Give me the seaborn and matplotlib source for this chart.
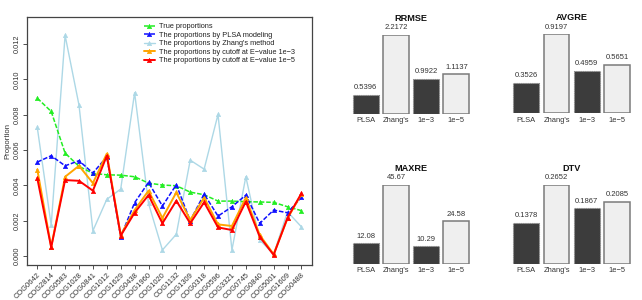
import matplotlib
matplotlib.use("Agg")
import matplotlib.pyplot as plt
import seaborn as sns
import pandas as pd
import numpy as np

sns.set_style("white")
plt.rcParams['font.family'] = ['Liberation Sans', 'DejaVu Sans']

cogs = ["COG0642", "COG2814", "COG0583", "COG1028", "COG0841", "COG1012", "COG1629",
        "COG0438", "COG1960", "COG1020", "COG1132", "COG1309", "COG0318", "COG0596",
        "COG3321", "COG0745", "COG0840", "COG5001", "COG1609", "COG0488"]

true_prop = [0.00894, 0.00819, 0.00583, 0.00508, 0.00468, 0.00460, 0.00458, 0.00449,
             0.00413, 0.00402, 0.00398, 0.00362, 0.00347, 0.00311, 0.00311, 0.00308,
             0.00306, 0.00304, 0.00279, 0.00257]
plsa_prop = [0.00532, 0.00568, 0.00511, 0.00540, 0.00470, 0.00562, 0.00109, 0.00302,
             0.00417, 0.00283, 0.00404, 0.00200, 0.00351, 0.00226, 0.00279, 0.00345,
             0.00185, 0.00260, 0.00245, 0.00332]
zhang_prop = [0.00728, 0.00175, 0.01250, 0.00855, 0.00143, 0.00321, 0.00379, 0.00925,
              0.00298, 0.00034, 0.00123, 0.00543, 0.00492, 0.00802, 0.00034, 0.00449,
              0.00091, 0.00010, 0.00250, 0.00165]
cut3_prop = [0.00490, 0.00052, 0.00449, 0.00511, 0.00413, 0.00580, 0.00119, 0.00260,
             0.00370, 0.00215, 0.00360, 0.00204, 0.00330, 0.00179, 0.00170, 0.00330,
             0.00119, 0.00010, 0.00213, 0.00351]
cut5_prop = [0.00440, 0.00049, 0.00430, 0.00426, 0.00370, 0.00568, 0.00115, 0.00245,
             0.00345, 0.00185, 0.00313, 0.00185, 0.00304, 0.00162, 0.00147, 0.00308,
             0.00109, 0.00006, 0.00217, 0.00355]

series_labels = ["True proportions", "The proportions by PLSA modeling",
                 "The proportions by Zhang's method",
                 "The proportions by cutoff at E\u2212value 1e\u22123",
                 "The proportions by cutoff at E\u2212value 1e\u22125"]

methods = ["PLSA", "Zhang's", "1e\u22123", "1e\u22125"]
rrmse = [0.5396, 2.2172, 0.9922, 1.1137]
avgre = [0.3526, 0.9197, 0.4959, 0.5651]
maxre = [12.08, 45.67, 10.29, 24.58]
dtv = [0.1378, 0.2652, 0.1867, 0.2085]
metric_names = ["RRMSE", "AVGRE", "MAXRE", "DTV"]
metric_labels = [["0.5396", "2.2172", "0.9922", "1.1137"],
                 ["0.3526", "0.9197", "0.4959", "0.5651"],
                 ["12.08", "45.67", "10.29", "24.58"],
                 ["0.1378", "0.2652", "0.1867", "0.2085"]]

W, H = 642, 300
fig = plt.figure(figsize=(W / 100, H / 100), dpi=100)


def fax(l, t, r, b):
    return fig.add_axes([l / W, 1 - b / H, (r - l) / W, (b - t) / H])


# ---------- line chart ----------
ax = fax(27, 17, 312, 265)
styles = [
    dict(color="#22ee22", lw=1.1, ls=(0, (3, 1.2)), zorder=3),
    dict(color="#1010ff", lw=1.1, ls=(0, (3, 1.2)), zorder=4),
    dict(color="#add8e6", lw=1.0, ls="-", zorder=2),
    dict(color="#ffa500", lw=1.4, ls="-", zorder=5),
    dict(color="#ff0000", lw=1.4, ls="-", zorder=6),
]
all_series = [true_prop, plsa_prop, zhang_prop, cut3_prop, cut5_prop]
for vals, lab, st in zip(all_series, series_labels, styles):
    sns.lineplot(x=cogs, y=vals, ax=ax, sort=False, marker="^", markersize=3.2,
                 color=st["color"], linewidth=st["lw"], linestyle=st["ls"],
                 markeredgecolor=st["color"], markeredgewidth=0.4, label=lab,
                 zorder=st["zorder"])

ax.set_xlim(-0.74, 19.76)
ax.set_ylim(-0.00051, 0.01354)
ax.set_yticks([0, 0.002, 0.004, 0.006, 0.008, 0.010, 0.012])
ax.set_yticklabels(["0.000", "0.002", "0.004", "0.006", "0.008", "0.010", "0.012"],
                   rotation=90, va="center", fontsize=5.3, color="#333333")
ax.set_xticks(range(len(cogs)))
ax.set_xticklabels(cogs, rotation=45, ha="right", rotation_mode="anchor",
                   fontsize=5.4, color="#333333")
ax.tick_params(axis="both", length=3, width=0.6, color="#333333", pad=1.5,
               bottom=True, left=True)
ax.set_ylabel("Proportion", fontsize=5.6, color="#333333", labelpad=2)
ax.set_xlabel("")
for sp in ax.spines.values():
    sp.set_color("#444444")
    sp.set_linewidth(0.9)
leg = ax.legend(loc="upper left", bbox_to_anchor=(0.41, 0.975), frameon=False,
                fontsize=5.3, handlelength=1.5, handletextpad=0.6,
                labelspacing=0.18, borderpad=0, borderaxespad=0)
for t in leg.get_texts():
    t.set_color("#222222")

# ---------- bar panels ----------
panels = [
    (rrmse, 350.7, 114.0),
    (avgre, 511.2, 113.3),
    (maxre, 350.7, 264.0),
    (dtv, 511.2, 264.0),
]
dark = "#3c3c3c"
light = "#efefef"
for i, (vals, left, bottom) in enumerate(panels):
    bax = fax(left, bottom - 79.3, left + 120.8, bottom)
    df = pd.DataFrame({"method": methods, "value": vals})
    sns.barplot(data=df, x="method", y="value", hue="method",
                palette=[dark, light, dark, light], legend=False, width=0.86,
                ax=bax, saturation=1)
    bax.set_ylim(0, max(vals))
    bax.set_xlim(-0.5, 3.5)
    for j, p in enumerate(bax.patches):
        if j % 2 == 0:
            p.set_edgecolor("#8a8a8a")
            p.set_linestyle((0, (1, 1)))
            p.set_linewidth(0.8)
        else:
            p.set_edgecolor("#7a7a7a")
            p.set_linewidth(1.1)
    bax.axis("off")
    for j, (v, s) in enumerate(zip(vals, metric_labels[i])):
        bax.annotate(s, (j, v), xytext=(0, 2.5), textcoords="offset points",
                     ha="center", va="bottom", fontsize=5.5, color="#333333",
                     annotation_clip=False)
        bax.annotate(methods[j], (j, 0), xytext=(0, -2.5), textcoords="offset points",
                     ha="center", va="top", fontsize=5.4, color="#333333",
                     annotation_clip=False)
    bax.annotate(metric_names[i], (0.5, 1), xycoords="axes fraction",
                 xytext=(0, 12), textcoords="offset points", ha="center",
                 va="center", fontsize=6.6, fontweight="bold", color="#111111",
                 annotation_clip=False)

fig.savefig("out.png", dpi=100)
